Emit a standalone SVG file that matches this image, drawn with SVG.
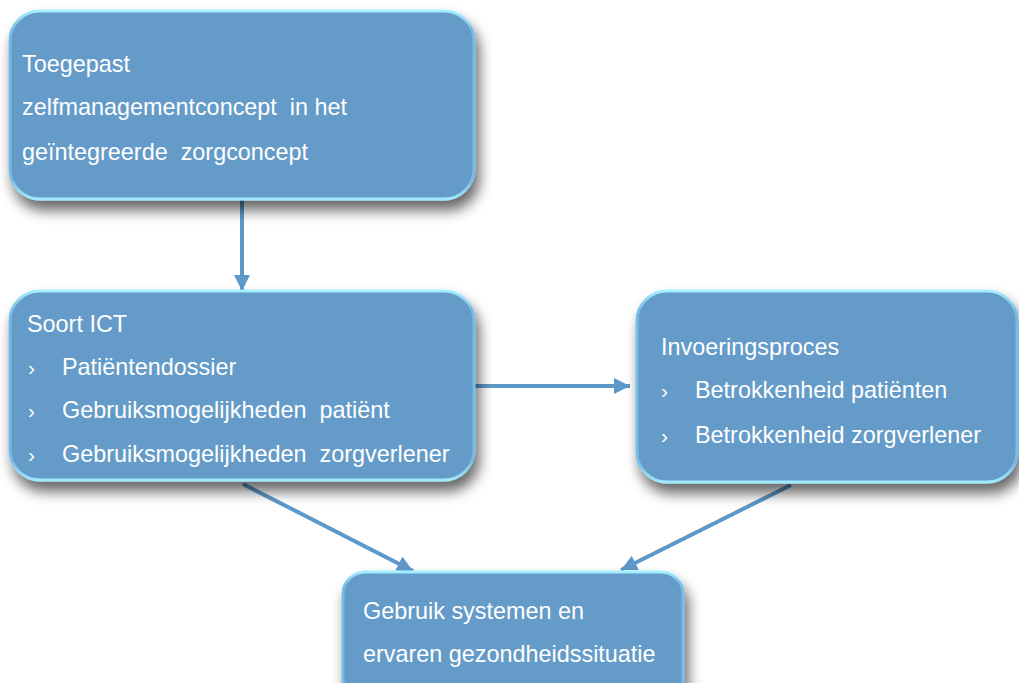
<svg xmlns="http://www.w3.org/2000/svg" width="1019" height="683" viewBox="0 0 1019 683">
<style>
.box{fill:#659bc8;stroke:url(#rim);stroke-width:3;filter:url(#sh)}
.t{font-family:"Liberation Sans",Arial,sans-serif;font-size:23.4px;fill:#ffffff;white-space:pre}
.b{font-family:"Liberation Sans",Arial,sans-serif;font-size:21px;fill:#ffffff}
.c{stroke:#5d98c8;stroke-width:4;fill:none}
</style>
<defs>
<linearGradient id="rim" x1="0" y1="0" x2="0" y2="1">
<stop offset="0" stop-color="#a4eeff"/>
<stop offset="0.1" stop-color="#76bbe4"/>
<stop offset="0.9" stop-color="#76bbe4"/>
<stop offset="1" stop-color="#a0eaff"/>
</linearGradient>
<filter id="sh" x="-10%" y="-10%" width="125%" height="145%">
<feOffset in="SourceAlpha" dx="4" dy="10" result="o"/>
<feGaussianBlur in="o" stdDeviation="7" result="b"/>
<feComponentTransfer in="b" result="s"><feFuncA type="linear" slope="0.6"/></feComponentTransfer>
<feMerge><feMergeNode in="s"/><feMergeNode in="SourceGraphic"/></feMerge>
</filter>
<marker id="ah" markerUnits="userSpaceOnUse" markerWidth="18" markerHeight="18" refX="16" refY="8" orient="auto">
<path d="M0,0 L16,8 L0,16 Z" fill="#5d98c8"/>
</marker>
</defs>
<g id="connectors">
<line class="c" x1="242" y1="199" x2="242" y2="291" marker-end="url(#ah)"/>
<line class="c" x1="470" y1="386" x2="630" y2="386" marker-end="url(#ah)"/>
<line class="c" x1="243" y1="484" x2="413" y2="571" marker-end="url(#ah)"/>
<line class="c" x1="791" y1="485" x2="621" y2="570" marker-end="url(#ah)"/>
</g>
<g id="node1">
<rect class="box" x="10" y="11" width="464" height="188" rx="30"/>
<text class="t" x="22" y="72">Toegepast</text>
<text class="t" x="22" y="115">zelfmanagementconcept  in het</text>
<text class="t" x="22" y="160">geïntegreerde  zorgconcept</text>
</g>
<g id="node2">
<rect class="box" x="10" y="291" width="464" height="189" rx="30"/>
<text class="t" x="27" y="332">Soort ICT</text>
<text class="b" x="28" y="375">›</text>
<text class="t" x="62" y="375">Patiëntendossier</text>
<text class="b" x="28" y="418">›</text>
<text class="t" x="62" y="418">Gebruiksmogelijkheden  patiënt</text>
<text class="b" x="28" y="462">›</text>
<text class="t" x="62" y="462">Gebruiksmogelijkheden  zorgverlener</text>
</g>
<g id="node3">
<rect class="box" x="637" y="291" width="380" height="191" rx="30"/>
<text class="t" x="661" y="355">Invoeringsproces</text>
<text class="b" x="661" y="398">›</text>
<text class="t" x="695" y="398">Betrokkenheid patiënten</text>
<text class="b" x="661" y="443">›</text>
<text class="t" x="695" y="443">Betrokkenheid zorgverlener</text>
</g>
<g id="node4">
<rect class="box" x="343" y="572" width="340" height="130" rx="22"/>
<text class="t" x="363" y="619">Gebruik systemen en</text>
<text class="t" x="363" y="662">ervaren gezondheidssituatie</text>
</g>
</svg>
